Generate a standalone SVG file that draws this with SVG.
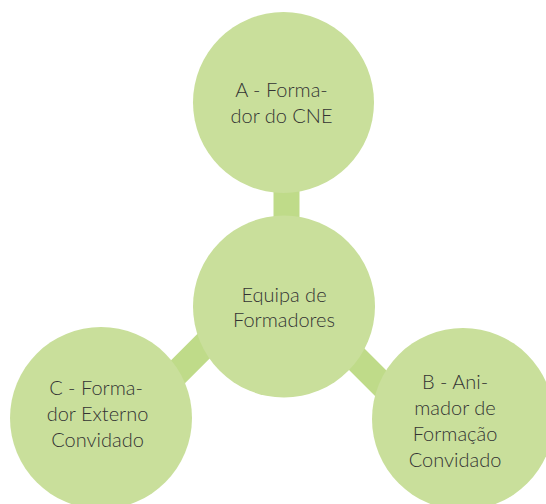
<svg xmlns="http://www.w3.org/2000/svg" width="546" height="504" viewBox="0 0 546 504">
<style>
.node{fill:#c9df9b}
.bar{stroke:#bfdb89;stroke-width:26;fill:none}
.lbl{font-family:Lato,"Open Sans","DejaVu Sans",sans-serif;font-weight:300;font-size:20px;fill:#333333;text-anchor:middle}
</style>
<rect width="546" height="504" fill="#ffffff"/>
<g id="connectors">
<line class="bar" x1="286.5" y1="180" x2="286.5" y2="232"/>
<line class="bar" x1="170" y1="379.7" x2="215" y2="334.7"/>
<line class="bar" x1="345" y1="347.5" x2="400" y2="402.5"/>
</g>
<g id="nodeA">
<circle class="node" cx="283.5" cy="102.5" r="90.5"/>
<text class="lbl" x="281.5" y="97">A - Forma-</text>
<text class="lbl" x="281.5" y="123">dor do CNE</text>
</g>
<g id="center">
<circle class="node" cx="284" cy="306.5" r="91"/>
<text class="lbl" x="284" y="302">Equipa de</text>
<text class="lbl" x="284" y="327">Formadores</text>
</g>
<g id="nodeC">
<circle class="node" cx="101" cy="418" r="91"/>
<text class="lbl" x="96" y="395">C - Forma-</text>
<text class="lbl" x="97.5" y="421">dor Externo</text>
<text class="lbl" x="97.5" y="447">Convidado</text>
</g>
<g id="nodeB">
<circle class="node" cx="463" cy="419" r="91"/>
<text class="lbl" x="455" y="389">B - Ani-</text>
<text class="lbl" x="455" y="415">mador de</text>
<text class="lbl" x="455" y="441">Formação</text>
<text class="lbl" x="455" y="467">Convidado</text>
</g>
</svg>
